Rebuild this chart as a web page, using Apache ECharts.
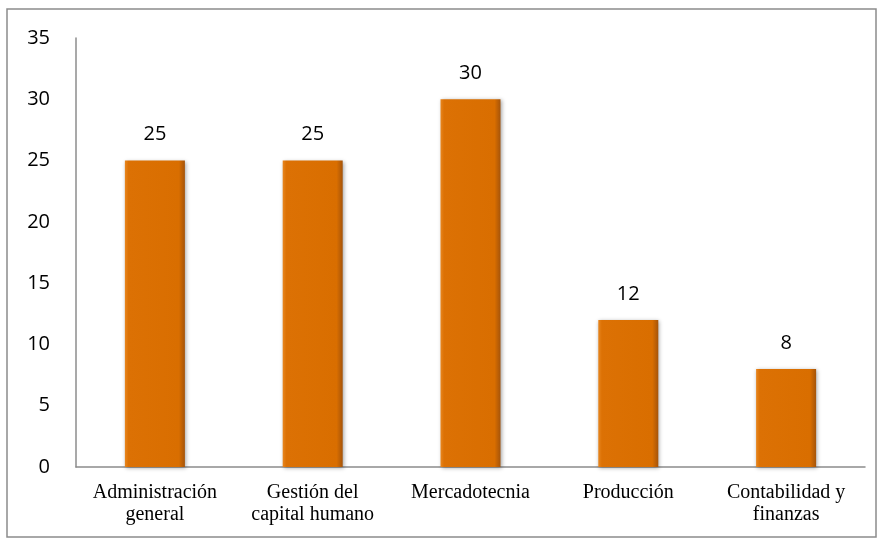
<!DOCTYPE html>
<html><head><meta charset="utf-8">
<script src="https://cdn.jsdelivr.net/npm/echarts@6/dist/echarts.min.js"></script>
<style>html,body{margin:0;padding:0;background:#fff}#c{width:882px;height:542px}</style>
</head><body><div id="c"></div>
<script>
const categories = ['Administración\ngeneral', 'Gestión del\ncapital humano', 'Mercadotecnia', 'Producción', 'Contabilidad y\nfinanzas'];
const values = [25, 25, 30, 12, 8];
const chart = echarts.init(document.getElementById('c'));
chart.setOption({
  animation: false,
  backgroundColor: '#fff',
  graphic: [{type: 'rect', shape: {x: 7, y: 9, width: 869, height: 528}, style: {fill: 'none', stroke: '#8c8c8c', lineWidth: 1.5}, silent: true}],
  grid: {left: 76, right: 17, top: 38, bottom: 75},
  xAxis: {
    type: 'category', data: categories,
    axisLine: {lineStyle: {color: '#8c8c8c', width: 1.5}},
    axisTick: {show: false},
    axisLabel: {fontFamily: 'Liberation Serif', fontSize: 20, color: '#000', margin: 15, lineHeight: 22, interval: 0}
  },
  yAxis: {
    type: 'value', min: 0, max: 35, interval: 5,
    axisLine: {show: true, lineStyle: {color: '#8c8c8c', width: 1.5}},
    axisTick: {show: false},
    splitLine: {show: false},
    axisLabel: {fontFamily: 'Open Sans', fontSize: 20, color: '#000', margin: 26}
  },
  series: [{
    type: 'bar', data: values, barWidth: 60,
    itemStyle: {
      color: new echarts.graphic.LinearGradient(0, 0, 1, 0, [
        {offset: 0, color: '#E8861E'}, {offset: 0.06, color: '#DC7104'},
        {offset: 0.9, color: '#D96E00'}, {offset: 1, color: '#A5540A'}
      ]),
      shadowColor: 'rgba(0,0,0,0.35)', shadowBlur: 4, shadowOffsetX: 1, shadowOffsetY: 1
    },
    label: {show: true, position: 'top', distance: 16, fontFamily: 'Open Sans', fontSize: 20, color: '#000'}
  }]
});
</script></body></html>
